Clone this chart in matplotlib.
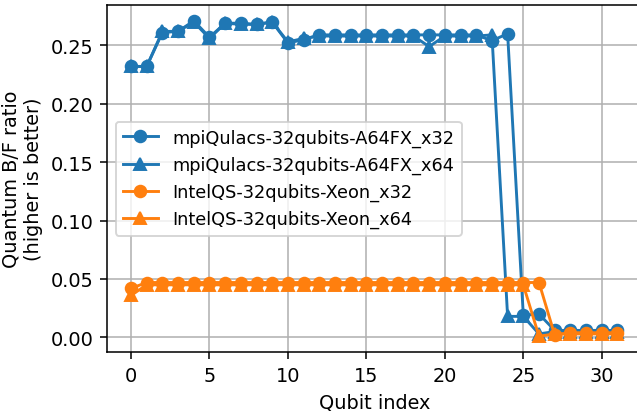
import numpy as np
import matplotlib.pyplot as plt

qubits = np.arange(32)

mpi_x32 = [0.232, 0.232, 0.261, 0.262, 0.271, 0.257, 0.269, 0.269, 0.268, 0.270,
           0.252, 0.255, 0.259, 0.259, 0.259, 0.259, 0.259, 0.259, 0.259, 0.259,
           0.259, 0.259, 0.259, 0.254, 0.260, 0.019, 0.020, 0.006, 0.006, 0.006,
           0.006, 0.006]
mpi_x64 = [0.232, 0.232, 0.262, 0.262, 0.270, 0.256, 0.269, 0.268, 0.268, 0.270,
           0.253, 0.256, 0.258, 0.258, 0.258, 0.258, 0.258, 0.258, 0.258, 0.249,
           0.258, 0.258, 0.258, 0.259, 0.018, 0.018, 0.003, 0.005, 0.005, 0.005,
           0.005, 0.005]
iqs_x32 = [0.042] + [0.047] * 26 + [0.002, 0.004, 0.004, 0.004, 0.004]
iqs_x64 = [0.036] + [0.045] * 25 + [0.001, 0.003, 0.003, 0.003, 0.003, 0.003]

dpi = 139
fig = plt.figure(figsize=(637 / dpi, 412 / dpi), dpi=dpi)
ax = fig.add_axes([0.1675, 0.1432, 0.840, 0.842])

ax.plot(qubits, mpi_x32, marker='o', color='C0', label='mpiQulacs-32qubits-A64FX_x32')
ax.plot(qubits, mpi_x64, marker='^', color='C0', label='mpiQulacs-32qubits-A64FX_x64')
ax.plot(qubits, iqs_x32, marker='o', color='C1', label='IntelQS-32qubits-Xeon_x32')
ax.plot(qubits, iqs_x64, marker='^', color='C1', label='IntelQS-32qubits-Xeon_x64')

ax.set_xlabel('Qubit index')
ax.set_ylabel('Quantum B/F ratio\n(higher is better)')
ax.grid(True)
ax.legend(loc='center left', fontsize=9.2)

fig.savefig('out.png', dpi=dpi)
